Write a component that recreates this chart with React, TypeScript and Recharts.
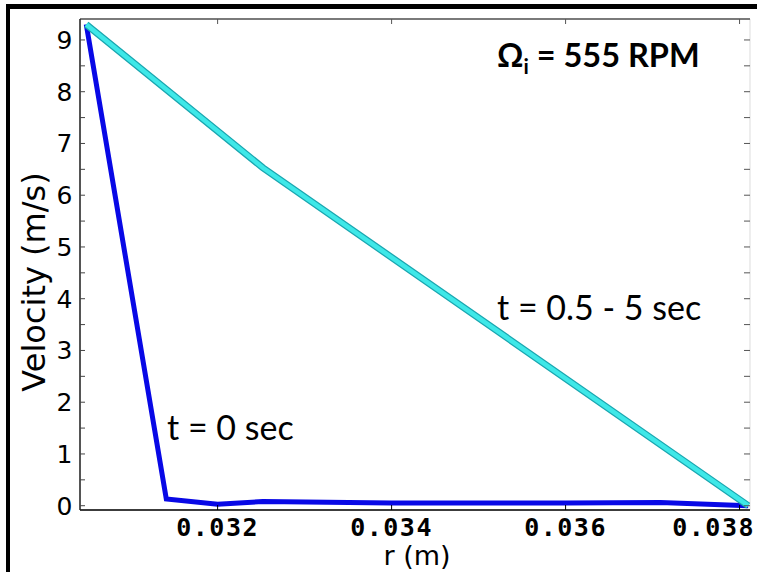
import { LineChart, Line, XAxis, YAxis, CartesianGrid } from 'recharts';

// radius (m) and velocity (m/s)
const rInitial = [0.03049, 0.03141, 0.032, 0.03252, 0.034, 0.036, 0.03709, 0.0381];
const vInitial = [9.3, 0.13, 0.03, 0.08, 0.05, 0.05, 0.06, 0.0];
const rSteady = [0.03049, 0.03252, 0.0381];
const vSteady = [9.3, 6.53, 0.0];

const xTicks = [0.032, 0.034, 0.036, 0.038];
const yTicks = [0, 0.5, 1, 1.5, 2, 2.5, 3, 3.5, 4, 4.5, 5, 5.5, 6, 6.5, 7, 7.5, 8, 8.5, 9];

const initialData = rInitial.map((r, i) => ({ r, v: vInitial[i] }));
const steadyData = rSteady.map((r, i) => ({ r, v: vSteady[i] }));

const XTick = (props: any) => {
  const { x, y, payload } = props;
  const label = Number(payload.value).toFixed(3);
  // keep the last label inside the picture
  const anchorEnd = x + 44 > 756;
  return (
    <text
      x={anchorEnd ? 755 : x}
      y={y + 26}
      textAnchor={anchorEnd ? 'end' : 'middle'}
      fontFamily="DejaVu Sans Mono"
      fontWeight="bold"
      fontSize={25}
      letterSpacing={1.5}
      fill="#000"
    >
      {label}
    </text>
  );
};

const YTick = (props: any) => {
  const { x, y, payload } = props;
  const v = Number(payload.value);
  if (!Number.isInteger(v)) return <g />;
  return (
    <text x={x} y={y + 9} textAnchor="end" fontFamily="DejaVu Sans" fontSize={25} fill="#000">
      {v}
    </text>
  );
};

const App = () => {
  return (
    <div style={{ position: 'absolute', left: 0, top: 0, width: 757, height: 572, overflow: 'hidden', background: '#fff' }}>
      {/* outer frame */}
      <div
        style={{
          position: 'absolute',
          left: 6,
          top: 4,
          width: 900,
          height: 800,
          borderLeft: '4px solid #000',
          borderTop: '5px solid #000',
        }}
      />
      <div style={{ position: 'absolute', left: 0, top: 0 }}>
        <LineChart width={757} height={572} margin={{ top: 18, right: 6, bottom: 22, left: 10 }}>
          <CartesianGrid stroke="#e2e2e2" strokeWidth={1.2} />
          <XAxis
            xAxisId="bottom"
            dataKey="r"
            type="number"
            domain={[0.030418, 0.03812]}
            ticks={xTicks}
            allowDataOverflow
            height={40}
            tickSize={-5}
            tickMargin={5}
            tick={<XTick />}
            axisLine={{ stroke: '#000', strokeWidth: 1.5 }}
            tickLine={{ stroke: '#000' }}
          />
          <XAxis
            xAxisId="top"
            orientation="top"
            dataKey="r"
            type="number"
            domain={[0.030418, 0.03812]}
            ticks={xTicks}
            allowDataOverflow
            height={1}
            tickSize={-5}
            tickFormatter={() => ''}
            axisLine={{ stroke: '#7a7a7a', strokeWidth: 2 }}
            tickLine={{ stroke: '#555' }}
          />
          <YAxis
            yAxisId="left"
            type="number"
            domain={[-0.083, 9.405]}
            ticks={yTicks}
            allowDataOverflow
            width={70}
            tickSize={-5}
            tickMargin={12.5}
            tick={<YTick />}
            axisLine={{ stroke: '#222', strokeWidth: 1.5 }}
            tickLine={{ stroke: '#444' }}
          />
          <YAxis
            yAxisId="right"
            orientation="right"
            type="number"
            domain={[-0.083, 9.405]}
            ticks={yTicks}
            allowDataOverflow
            width={1}
            tickSize={-6}
            tickFormatter={() => ''}
            axisLine={false}
            tickLine={{ stroke: '#555' }}
          />
          <Line
            xAxisId="bottom"
            yAxisId="left"
            data={initialData}
            dataKey="v"
            type="linear"
            stroke="#0808e6"
            strokeWidth={5}
            dot={false}
            isAnimationActive={false}
          />
          <Line
            xAxisId="bottom"
            yAxisId="left"
            data={steadyData}
            dataKey="v"
            type="linear"
            stroke="#1aa6b0"
            strokeWidth={7}
            dot={false}
            isAnimationActive={false}
          />
          <Line
            xAxisId="bottom"
            yAxisId="left"
            data={steadyData}
            dataKey="v"
            type="linear"
            stroke="#3ee8e8"
            strokeWidth={4.5}
            dot={false}
            isAnimationActive={false}
          />
        </LineChart>
      </div>
      {/* titles and annotations */}
      <svg width={757} height={572} style={{ position: 'absolute', left: 0, top: 0, pointerEvents: 'none' }}>
        <text
          transform="translate(45, 282) rotate(-90)"
          textAnchor="middle"
          fontFamily="DejaVu Sans"
          fontSize={32}
          fill="#000"
        >
          Velocity (m/s)
        </text>
        <text x={417} y={565} textAnchor="middle" fontFamily="DejaVu Sans" fontSize={27} fill="#000">
          r (m)
        </text>
        <text x={497} y={67} fontFamily="Lato" fontWeight="bold" fontSize={32.5} fill="#000">
          Ω
          <tspan fontSize={21} dy={7}>i</tspan>
          <tspan dy={-7}> = 555 RPM</tspan>
        </text>
        <text x={497} y={320} fontFamily="Lato" fontSize={34} fill="#000">
          t = 0.5 - 5 sec
        </text>
        <text x={167} y={440} fontFamily="Lato" fontSize={34} fill="#000">
          t = 0 sec
        </text>
      </svg>
    </div>
  );
};

export default App;
